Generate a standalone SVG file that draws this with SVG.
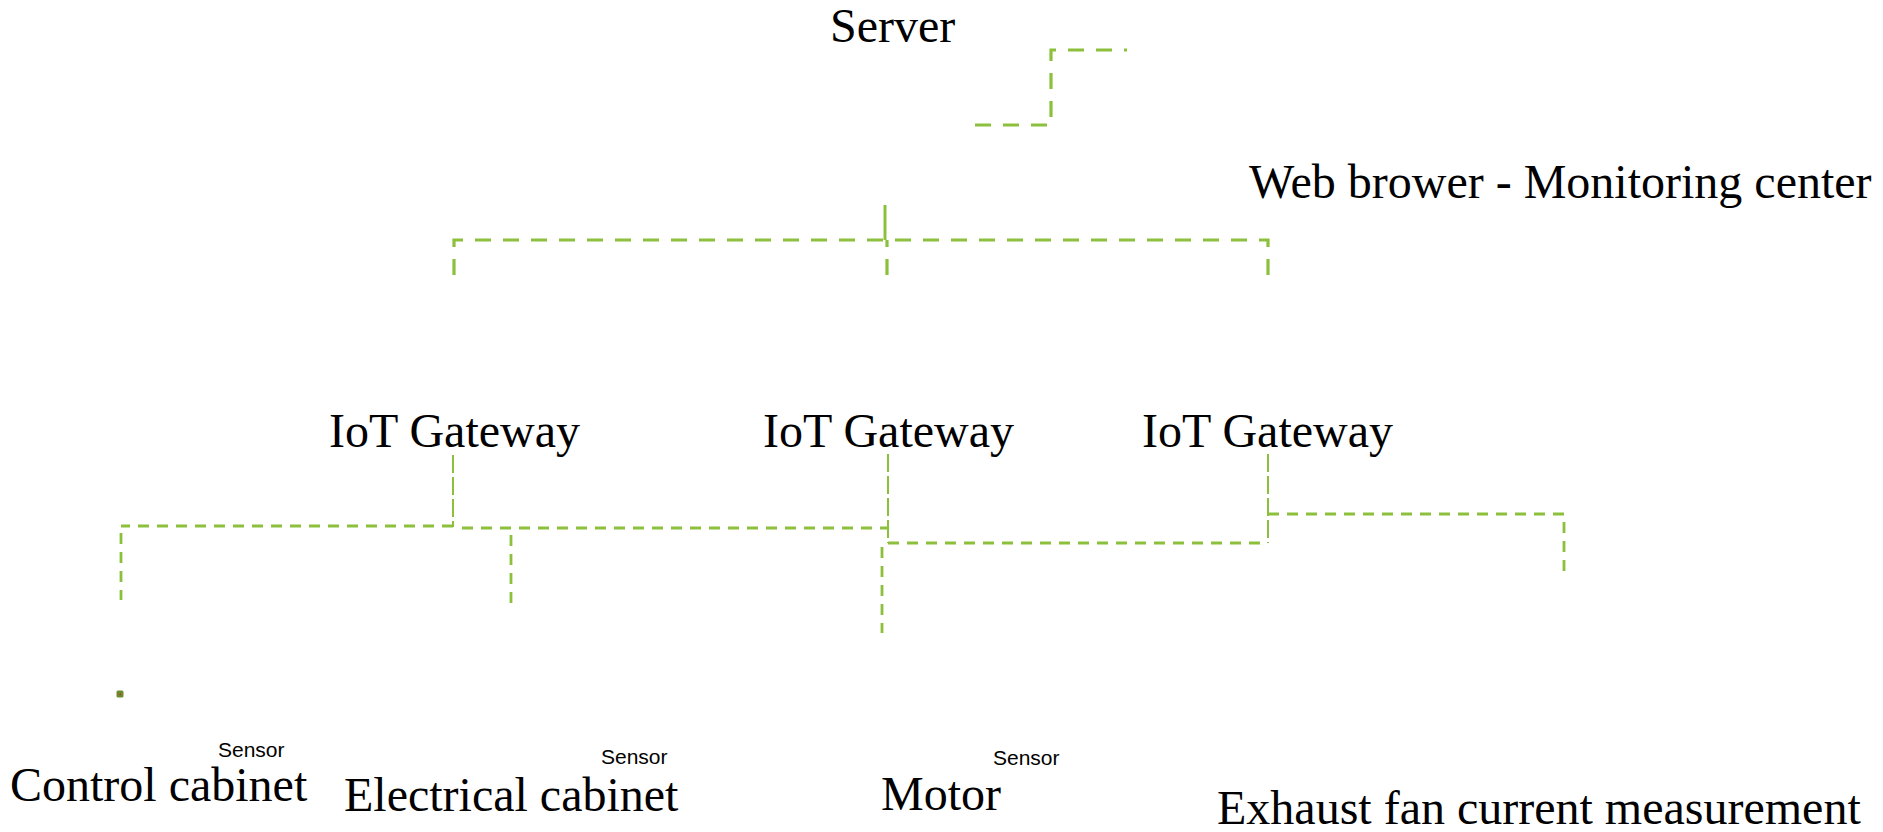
<svg xmlns="http://www.w3.org/2000/svg" width="1883" height="832" viewBox="0 0 1883 832">
<style>
.t{font-family:"Liberation Serif","Times New Roman",serif;font-size:48px;fill:#000}
.s{font-family:"Liberation Sans",Arial,sans-serif;font-size:21px;fill:#000}
.up{fill:none;stroke:#8cc03c;stroke-width:3.2;stroke-dasharray:16 12}
.lo{fill:none;stroke:#8cc03c;stroke-width:2.8;stroke-dasharray:11 8}
.lv{fill:none;stroke:#8cc03c;stroke-width:2;stroke-dasharray:18 4}
</style>
<rect width="1883" height="832" fill="#fff"/>
<g id="connectors">
  <path class="up" d="M975 125 H1051 V50 H1127"/>
  <path d="M885 205 V240" fill="none" stroke="#8cc03c" stroke-width="3"/>
  <path class="up" d="M454 275 V240 H887"/>
  <path class="up" d="M887 275 V240"/>
  <path class="up" d="M1268 275 V240 H887"/>
  <path class="lv" d="M453 455 V527"/>
  <path class="lo" d="M453 526 H121"/>
  <path class="lo" d="M121 533 V600"/>
  <path class="lo" d="M462 528 H888"/>
  <path class="lo" d="M511 535 V603"/>
  <path class="lv" d="M888 454 V543"/>
  <path class="lo" d="M888 543 H1268"/>
  <path class="lo" d="M882 547 V633"/>
  <path class="lv" d="M1268 454 V543"/>
  <path class="lo" d="M1268 514 H1564 V575"/>
  <rect x="116.5" y="690.5" width="7" height="7" rx="1.5" fill="#6a8c2e"/>
  <rect x="119.5" y="693.5" width="1.5" height="1.5" fill="#e02020"/>
</g>
<g id="server"><text class="t" x="830" y="42">Server</text></g>
<g id="web"><text class="t" x="1249" y="198">Web brower - Monitoring center</text></g>
<g id="gw1"><text class="t" x="329" y="447">IoT Gateway</text></g>
<g id="gw2"><text class="t" x="763" y="447">IoT Gateway</text></g>
<g id="gw3"><text class="t" x="1142" y="447">IoT Gateway</text></g>
<g id="control"><text class="s" x="218" y="757">Sensor</text><text class="t" x="10" y="801">Control cabinet</text></g>
<g id="electrical"><text class="s" x="601" y="764">Sensor</text><text class="t" x="344" y="811">Electrical cabinet</text></g>
<g id="motor"><text class="s" x="993" y="765">Sensor</text><text class="t" x="881" y="810">Motor</text></g>
<g id="exhaust"><text class="t" x="1217" y="824">Exhaust fan current measurement</text></g>
</svg>
